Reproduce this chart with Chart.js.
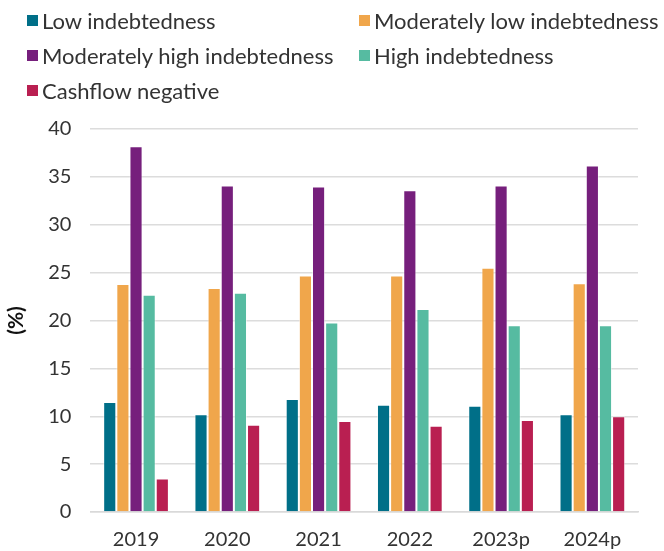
<!DOCTYPE html>
<html>
<head>
<meta charset="utf-8">
<script src="https://cdn.jsdelivr.net/npm/chart.js@4"></script>
<style>
  body { margin: 0; background: #fff; overflow: hidden; }
  #wrap { position: relative; width: 664px; height: 551px; overflow: hidden; }
  #legend {
    position: absolute; left: 27px; top: 7px;
    display: grid; grid-template-columns: 332px 302px; row-gap: 8px;
    font-family: Lato, sans-serif; font-size: 22px; color: #333;
  }
  .item { display: flex; align-items: center; height: 27px; white-space: nowrap; }
  .box { width: 11px; height: 11px; margin-right: 4px; }
</style>
</head>
<body>
<div id="wrap">
  <canvas id="chart" width="664" height="560"></canvas>
  <div id="legend"></div>
</div>
<script>
const years = ["2019", "2020", "2021", "2022", "2023p", "2024p"];
const seriesNames = ["Low indebtedness", "Moderately low indebtedness", "Moderately high indebtedness", "High indebtedness", "Cashflow negative"];
const lowVals = [11.5, 10.2, 11.8, 11.2, 11.1, 10.2];
const modLowVals = [23.8, 23.4, 24.7, 24.7, 25.5, 23.9];
const modHighVals = [38.2, 34.1, 34.0, 33.6, 34.1, 36.2];
const highVals = [22.7, 22.9, 19.8, 21.2, 19.5, 19.5];
const cashVals = [3.5, 9.1, 9.5, 9.0, 9.6, 10.0];
const colors = ['#006f88', '#f0a64b', '#761f7c', '#56bba1', '#b91f51'];

const allVals = [lowVals, modLowVals, modHighVals, highVals, cashVals];

// html legend, two columns like the original
const legendDiv = document.getElementById("legend");
seriesNames.forEach((name, i) => {
    const item = document.createElement("div");
    item.className = "item";
    item.innerHTML = `<span class="box" style="background:${colors[i]}"></span>${name}`;
    legendDiv.appendChild(item);
});

const ctx = document.getElementById("chart");
new Chart(ctx, {
    type: 'bar',
    data: {
        labels: years,
        datasets: allVals.map((vals, i) => ({
            label: seriesNames[i],
            data: vals,
            backgroundColor: colors[i],
            borderColor: 'rgba(255,255,255,0.5)',
            borderWidth: 1,
            barPercentage: 1,
            categoryPercentage: 0.72
        }))
    },
    options: {
        responsive: false,
        animation: false,
        layout: { padding: { top: 129, right: 26, left: 4, bottom: 0 } },
        plugins: { legend: { display: false }, tooltip: { enabled: false } },
        scales: {
            x: {
                grid: { display: false },
                border: { color: '#d9d9d9', width: 1.5 },
                ticks: { color: '#333', font: { family: 'Lato', size: 20 }, padding: 8 }
            },
            y: {
                min: 0, max: 40,
                ticks: { stepSize: 5, color: '#333', font: { family: 'Lato', size: 20 }, padding: 19 },
                grid: { color: '#dcdcdc', lineWidth: 1.5, drawTicks: false },
                border: { display: false },
                title: { display: true, text: '(%)', color: '#111', font: { family: 'Lato', size: 21, weight: 'bold' }, padding: { top: 0, bottom: 0 } }
            }
        }
    }
});
</script>
</body>
</html>
